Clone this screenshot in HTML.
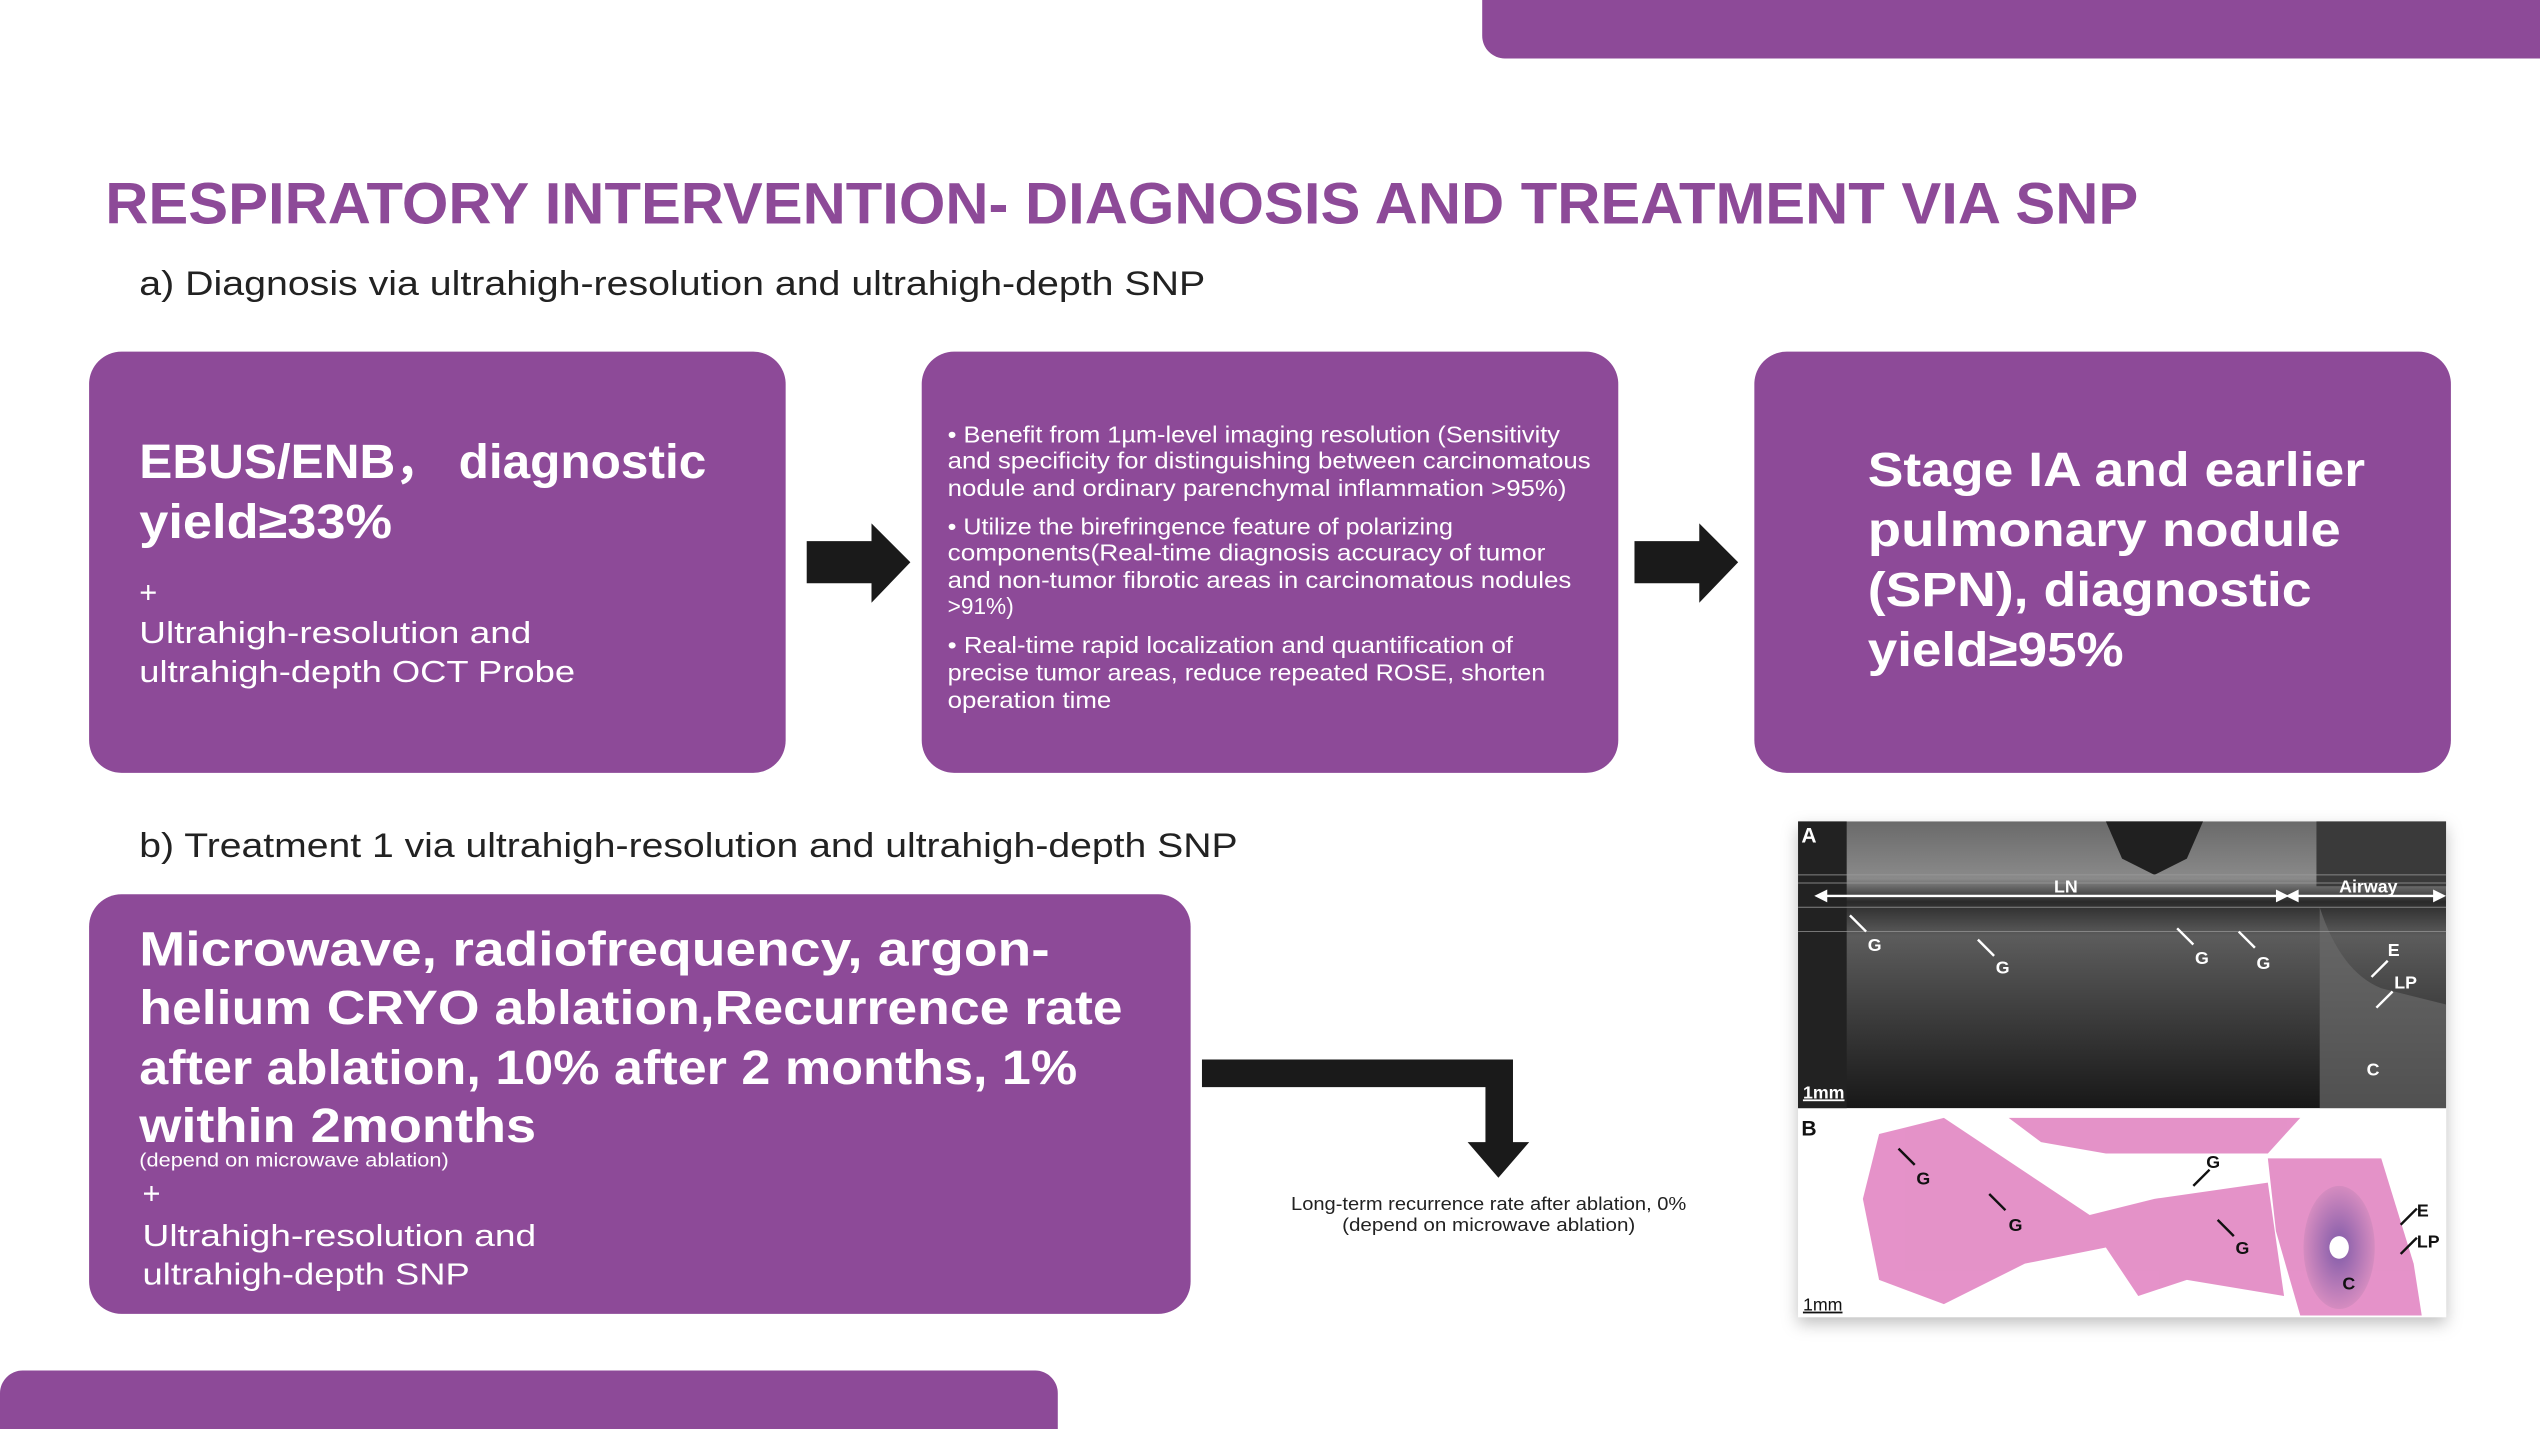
<!DOCTYPE html>
<html><head><meta charset="utf-8"><style>
html,body{margin:0;padding:0;background:#fff;}
svg{display:block;}
text{font-family:"Liberation Sans","DejaVu Sans",sans-serif;}
</style></head><body>
<svg width="2540" height="1429" viewBox="0 0 1568 882" xmlns="http://www.w3.org/2000/svg">
<defs>
<linearGradient id="oct" x1="0" y1="0" x2="0" y2="1">
<stop offset="0" stop-color="#6a6a6a"/><stop offset="0.2" stop-color="#8a8a8a"/><stop offset="0.28" stop-color="#2a2a2a"/><stop offset="0.4" stop-color="#5c5c5c"/><stop offset="1" stop-color="#181818"/>
</linearGradient>
<radialGradient id="cart" cx="0.5" cy="0.5" r="0.5"><stop offset="0" stop-color="#7f5aa8"/><stop offset="1" stop-color="#d58cc0"/></radialGradient>
<filter id="sh" x="-5%" y="-5%" width="110%" height="115%"><feDropShadow dx="0" dy="4" stdDeviation="5" flood-color="#000" flood-opacity="0.25"/></filter>
</defs>
<g fill="#8d4a98">
<rect x="915" y="-30" width="700" height="66" rx="14"/>
<rect x="0" y="846" width="653" height="60" rx="14"/>
<rect x="55" y="217" width="430" height="260" rx="20"/>
<rect x="569" y="217" width="430" height="260" rx="20"/>
<rect x="1083" y="217" width="430" height="260" rx="20"/>
<rect x="55" y="552" width="680" height="259" rx="20"/>
</g>
<text x="65" y="138" font-size="36" font-weight="bold" fill="#8d4a98" textLength="1255" lengthAdjust="spacingAndGlyphs">RESPIRATORY INTERVENTION- DIAGNOSIS AND TREATMENT VIA SNP</text>
<text x="86" y="182" font-size="21" fill="#222" textLength="658" lengthAdjust="spacingAndGlyphs">a) Diagnosis via ultrahigh-resolution and ultrahigh-depth SNP</text>
<text x="86" y="529" font-size="21" fill="#222" textLength="678" lengthAdjust="spacingAndGlyphs">b) Treatment 1 via ultrahigh-resolution and ultrahigh-depth SNP</text>

<g fill="#fff">
<text x="86" y="295" font-size="30" font-weight="bold" textLength="350" lengthAdjust="spacingAndGlyphs">EBUS/ENB，  diagnostic</text>
<text x="86" y="332" font-size="30" font-weight="bold" textLength="156" lengthAdjust="spacingAndGlyphs">yield≥33%</text>
<text x="86" y="372" font-size="19">+</text>
<text x="86" y="397" font-size="19" textLength="242" lengthAdjust="spacingAndGlyphs">Ultrahigh-resolution and</text>
<text x="86" y="421" font-size="19" textLength="269" lengthAdjust="spacingAndGlyphs">ultrahigh-depth OCT Probe</text>

<g font-size="14">
<text x="585" y="273" textLength="378" lengthAdjust="spacingAndGlyphs">• Benefit from 1µm-level imaging resolution (Sensitivity</text>
<text x="585" y="289" textLength="397" lengthAdjust="spacingAndGlyphs">and specificity for  distinguishing between carcinomatous</text>
<text x="585" y="306" textLength="382" lengthAdjust="spacingAndGlyphs">nodule and ordinary parenchymal inflammation  &gt;95%)</text>
<text x="585" y="330" textLength="312" lengthAdjust="spacingAndGlyphs">• Utilize the birefringence feature of polarizing</text>
<text x="585" y="346" textLength="369" lengthAdjust="spacingAndGlyphs">components(Real-time diagnosis accuracy  of tumor</text>
<text x="585" y="363" textLength="385" lengthAdjust="spacingAndGlyphs">and non-tumor fibrotic areas in carcinomatous nodules</text>
<text x="585" y="379">&gt;91%)</text>
<text x="585" y="403" textLength="349" lengthAdjust="spacingAndGlyphs">• Real-time rapid localization and quantification of</text>
<text x="585" y="420" textLength="369" lengthAdjust="spacingAndGlyphs">precise tumor areas,  reduce repeated ROSE,  shorten</text>
<text x="585" y="437" textLength="101" lengthAdjust="spacingAndGlyphs">operation time</text>
</g>

<g font-size="30" font-weight="bold">
<text x="1153" y="300" textLength="307" lengthAdjust="spacingAndGlyphs">Stage IA and earlier</text>
<text x="1153" y="337" textLength="292" lengthAdjust="spacingAndGlyphs">pulmonary nodule</text>
<text x="1153" y="374" textLength="274" lengthAdjust="spacingAndGlyphs">(SPN), diagnostic</text>
<text x="1153" y="411" textLength="158" lengthAdjust="spacingAndGlyphs">yield≥95%</text>
</g>

<g font-size="30" font-weight="bold">
<text x="86" y="596" textLength="562" lengthAdjust="spacingAndGlyphs">Microwave, radiofrequency, argon-</text>
<text x="86" y="632" textLength="607" lengthAdjust="spacingAndGlyphs">helium CRYO ablation,Recurrence rate</text>
<text x="86" y="669" textLength="579" lengthAdjust="spacingAndGlyphs">after ablation, 10% after 2 months, 1%</text>
<text x="86" y="705" textLength="245" lengthAdjust="spacingAndGlyphs">within 2months</text>
</g>
<text x="86" y="720" font-size="12" textLength="191" lengthAdjust="spacingAndGlyphs">(depend on microwave ablation)</text>
<text x="88" y="743" font-size="19">+</text>
<text x="88" y="769" font-size="19" textLength="243" lengthAdjust="spacingAndGlyphs">Ultrahigh-resolution and</text>
<text x="88" y="793" font-size="19" textLength="202" lengthAdjust="spacingAndGlyphs">ultrahigh-depth SNP</text>
</g>

<g fill="#1a1a1a">
<polygon points="498,334 538,334 538,323 562,347 538,372 538,360 498,360"/>
<polygon points="1009,334 1049,334 1049,323 1073,347 1049,372 1049,360 1009,360"/>
<polygon points="742,654 934,654 934,705 944,705 925,727 906,705 917,705 917,671 742,671"/>
</g>
<text x="919" y="747" font-size="11.5" fill="#222" text-anchor="middle" textLength="244" lengthAdjust="spacingAndGlyphs">Long-term recurrence rate after ablation, 0%</text>
<text x="919" y="760" font-size="11.5" fill="#222" text-anchor="middle" textLength="181" lengthAdjust="spacingAndGlyphs">(depend on microwave ablation)</text>

<!-- figure -->
<g filter="url(#sh)"><rect x="1110" y="507" width="400" height="306" fill="#fff"/></g>
<rect x="1110" y="507" width="400" height="177" fill="url(#oct)"/>
<rect x="1110" y="507" width="30" height="177" fill="#222"/>
<rect x="1430" y="507" width="80" height="40" fill="#3a3a3a"/>
<path d="M1300 507 L1360 507 L1350 530 L1330 540 L1310 530 Z" fill="#202020"/>
<path d="M1432 560 Q1445 600 1470 610 L1510 620 L1510 684 L1432 684 Z" fill="#6a6a6a" opacity="0.7"/>
<g stroke="#9a9a9a" stroke-width="0.6" opacity="0.8">
<line x1="1110" y1="540" x2="1510" y2="540"/><line x1="1110" y1="545" x2="1510" y2="545"/>
<line x1="1110" y1="560" x2="1510" y2="560"/><line x1="1110" y1="575" x2="1510" y2="575"/>
</g>
<g stroke="#fff" stroke-width="1.5" fill="#fff">
<line x1="1124" y1="553" x2="1410" y2="553"/><line x1="1414" y1="553" x2="1507" y2="553"/>
<polygon points="1120,553 1128,549 1128,557" stroke="none"/><polygon points="1413,553 1405,549 1405,557" stroke="none"/>
<polygon points="1411,553 1419,549 1419,557" stroke="none"/><polygon points="1510,553 1502,549 1502,557" stroke="none"/>
</g>
<g font-size="11" font-weight="bold" fill="#fff">
<text x="1112" y="520" font-size="13">A</text>
<text x="1268" y="551">LN</text><text x="1444" y="551">Airway</text>
<text x="1153" y="587">G</text><text x="1232" y="601">G</text><text x="1355" y="595">G</text><text x="1393" y="598">G</text>
<text x="1474" y="590">E</text><text x="1478" y="610">LP</text><text x="1461" y="664">C</text>
<text x="1113" y="678" text-decoration="underline">1mm</text>
</g>
<g stroke="#fff" stroke-width="1.5">
<line x1="1142" y1="565" x2="1152" y2="575"/><line x1="1221" y1="580" x2="1231" y2="590"/>
<line x1="1344" y1="573" x2="1354" y2="583"/><line x1="1382" y1="575" x2="1392" y2="585"/>
<line x1="1474" y1="593" x2="1464" y2="603"/><line x1="1477" y1="612" x2="1467" y2="622"/>
</g>
<!-- panel B -->
<g fill="#e07fbf" opacity="0.85">
<path d="M1160 700 L1200 690 L1260 730 L1290 750 L1330 740 L1400 730 L1410 800 L1350 790 L1320 800 L1300 770 L1250 780 L1200 805 L1160 790 L1150 740 Z"/>
<path d="M1240 690 L1420 690 L1400 712 L1300 712 L1260 705 Z"/>
<path d="M1400 715 L1470 715 L1490 780 L1495 812 L1420 812 L1405 760 Z"/>
</g>
<ellipse cx="1444" cy="770" rx="22" ry="38" fill="url(#cart)"/>
<ellipse cx="1444" cy="770" rx="6" ry="7" fill="#fff"/>
<g font-size="11" font-weight="bold" fill="#111">
<text x="1112" y="701" font-size="13">B</text>
<text x="1183" y="731">G</text><text x="1240" y="760">G</text><text x="1362" y="721">G</text><text x="1380" y="774">G</text>
<text x="1492" y="751">E</text><text x="1492" y="770">LP</text><text x="1446" y="796">C</text>
<text x="1113" y="809" font-weight="normal" text-decoration="underline">1mm</text>
</g>
<g stroke="#111" stroke-width="1.5">
<line x1="1172" y1="709" x2="1182" y2="719"/><line x1="1228" y1="737" x2="1238" y2="747"/>
<line x1="1364" y1="722" x2="1354" y2="732"/><line x1="1369" y1="753" x2="1379" y2="763"/>
<line x1="1492" y1="746" x2="1482" y2="756"/><line x1="1492" y1="764" x2="1482" y2="774"/>
</g>
</svg>
</body></html>
